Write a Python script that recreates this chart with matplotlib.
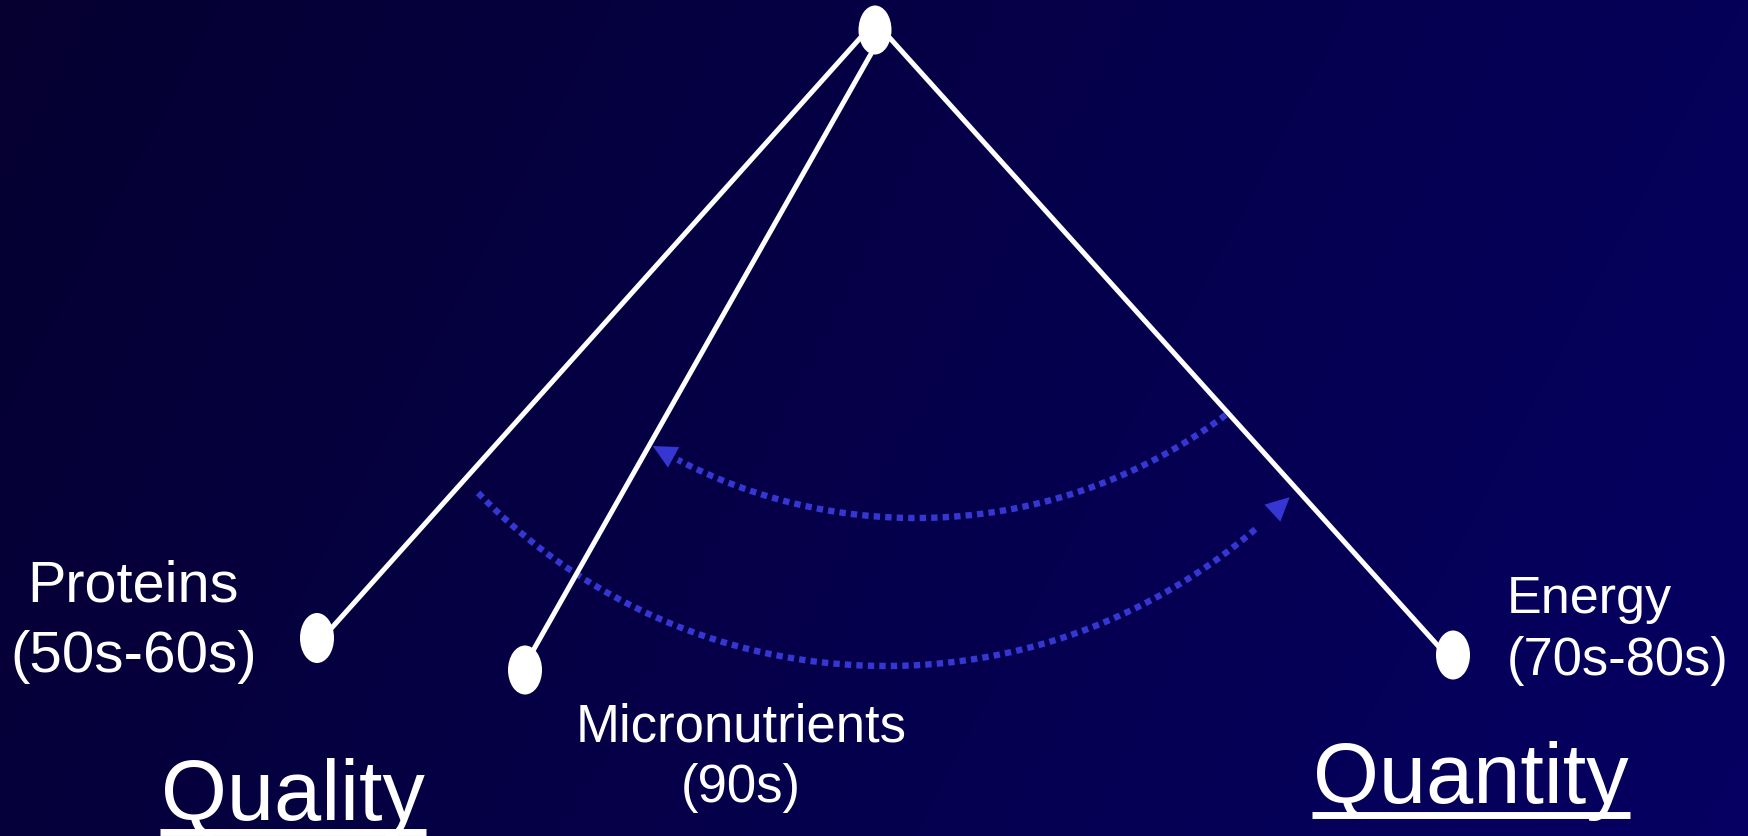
import numpy as np
import matplotlib
matplotlib.use("Agg")
import matplotlib.pyplot as plt
from matplotlib.patches import Ellipse, FancyArrowPatch

plt.rcParams['font.family'] = ['Liberation Sans', 'DejaVu Sans']

# ---- diagram data (pixel coordinate space, y downward) ----
node_names = ["top", "Proteins", "Micronutrients", "Energy"]
node_x = [875, 317, 525, 1453]
node_y = [30, 638, 670, 655]
node_w = [33, 34, 34, 34]
node_h = [49, 50, 49, 49]

# branch lines: (x0, y0, x1, y1)
branch_x0 = [862, 876, 888]
branch_y0 = [36, 45, 36]
branch_x1 = [328, 530, 1440]
branch_y1 = [632, 656, 648]

# dotted arcs: centre, radius, start angle, end angle (deg, y-down)
arc_cx = [916, 886]
arc_cy = [1, 99]
arc_r = [517, 567]
arc_a0 = [53.2, 136.0]
arc_a1 = [120.6, 44.6]

labels = ["Proteins", "(50s-60s)", "Micronutrients", "(90s)", "Energy", "(70s-80s)"]
label_x = [133, 134, 741, 741, 1507, 1507]
label_y = [602, 672, 741, 802, 613, 675]
label_size = [41.5, 42, 38, 38, 37.5, 37.8]
label_ha = ["center", "center", "center", "center", "left", "left"]

titles = ["Quality", "Quantity"]
title_x = [293, 1471]
title_y = [820, 803]
ul_x0 = [160, 1312]
ul_x1 = [426, 1630]
ul_y = [832, 815]

W, H = 1748, 836
fig = plt.figure(figsize=(W / 100, H / 100), dpi=100)
ax = fig.add_axes([0, 0, 1, 1])
ax.set_xlim(0, W)
ax.set_ylim(H, 0)
ax.axis('off')

# background gradient
gx = np.linspace(0, 1, 200)
gy = np.linspace(0, 1, 100)
GX, GY = np.meshgrid(gx, gy)
t = np.clip(0.8 * GX + 0.2 * GY, 0, 1)
c0 = np.array([6, 0, 48]) / 255
c1 = np.array([5, 0, 98]) / 255
img = c0[None, None, :] * (1 - t[..., None]) + c1[None, None, :] * t[..., None]
ax.imshow(img, extent=[0, W, H, 0], aspect='auto', zorder=0, interpolation='bilinear')

# branch lines
for x0, y0, x1, y1 in zip(branch_x0, branch_y0, branch_x1, branch_y1):
    ax.plot([x0, x1], [y0, y1], color='white', lw=3.6, solid_capstyle='butt', zorder=2)

# nodes
for x, y, w, h in zip(node_x, node_y, node_w, node_h):
    ax.add_patch(Ellipse((x, y), w, h, facecolor='white', edgecolor='none', zorder=3))

# dotted arcs with arrowheads
arc_color = '#3636d2'
for cx, cy, r, a0, a1 in zip(arc_cx, arc_cy, arc_r, arc_a0, arc_a1):
    th = np.radians(np.linspace(a0, a1, 300))
    xs = cx + r * np.cos(th)
    ys = cy + r * np.sin(th)
    ax.plot(xs[:-14], ys[:-14], color=arc_color, lw=4.6,
            linestyle=(0, (1.0, 0.8)), dash_capstyle='butt', zorder=1.5)
    ax.add_patch(FancyArrowPatch((xs[-18], ys[-18]), (xs[-1], ys[-1]),
                                 arrowstyle='-|>,head_length=0.85,head_width=0.42',
                                 mutation_scale=20, lw=0, color=arc_color,
                                 shrinkA=0, shrinkB=0, zorder=1.6))

# labels
for s, x, y, fs, ha in zip(labels, label_x, label_y, label_size, label_ha):
    ax.text(x, y, s, color='white', fontsize=fs, ha=ha, va='baseline', zorder=4)

for s, x, y, x0, x1, uy in zip(titles, title_x, title_y, ul_x0, ul_x1, ul_y):
    ax.text(x, y, s, color='white', fontsize=61, ha='center', va='baseline', zorder=4)
    ax.plot([x0, x1], [uy, uy], color='white', lw=5, solid_capstyle='butt', zorder=4)

fig.savefig('out.png', dpi=100)
